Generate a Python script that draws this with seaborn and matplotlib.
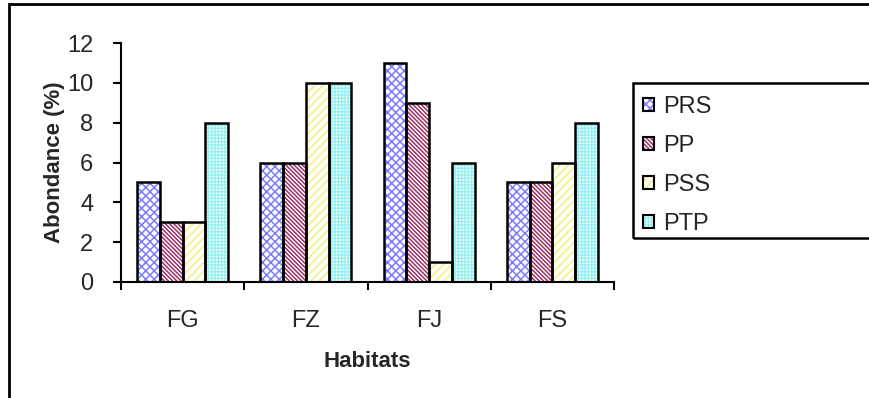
import matplotlib
matplotlib.use("Agg")
import matplotlib.pyplot as plt
from matplotlib.patches import Rectangle, Patch
from matplotlib.legend_handler import HandlerTuple
import seaborn as sns
import pandas as pd

# Abundance (%) of each species group per habitat
habitats = ["FG", "FZ", "FJ", "FS"]
species = ["PRS", "PP", "PSS", "PTP"]
prs = [5, 6, 11, 5]
pp = [3, 6, 9, 5]
pss = [3, 10, 1, 6]
ptp = [8, 10, 6, 8]

# Hatch pattern and hatch colour per species
hatch_colors = ["#7B7BFF", "#993366", "#F2F27A", "#99F0F0"]
hatches = ["xxxx", "\\\\\\\\\\\\\\\\", "////", "+++++"]

df = pd.DataFrame({
    "Habitat": habitats * 4,
    "Species": [s for s in species for _ in habitats],
    "Abondance": prs + pp + pss + ptp,
})

sns.set_theme(style="white")
plt.rcParams["font.family"] = ["Liberation Sans", "DejaVu Sans"]
plt.rcParams["hatch.linewidth"] = 1.1

W, H = 869, 398
fig = plt.figure(figsize=(W / 100, H / 100), dpi=100)
fig.patch.set_facecolor("white")

ax = fig.add_axes([121 / W, 1 - 282 / H, (614 - 121) / W, (282 - 43) / H])

sns.barplot(data=df, x="Habitat", y="Abondance", hue="Species",
            order=habitats, hue_order=species, width=0.74,
            palette=["white"] * 4, saturation=1, legend=False, ax=ax)

for cont, hc, hp in zip(ax.containers, hatch_colors, hatches):
    for bar in cont:
        bar.set_facecolor("white")
        bar.set_edgecolor(hc)
        bar.set_linewidth(0)
        bar.set_hatch(hp)
        ax.add_patch(Rectangle(bar.get_xy(), bar.get_width(), bar.get_height(),
                               fill=False, edgecolor="black", linewidth=1.8,
                               zorder=bar.get_zorder() + 0.1))

ax.set_xlim(-0.5, len(habitats) - 0.5)
ax.set_ylim(0, 12)
ax.set_yticks(range(0, 13, 2))

# category boundaries carry the x ticks, labels sit at the centres
ax.set_xticks([i - 0.5 for i in range(len(habitats) + 1)], minor=True)
ax.tick_params(axis="x", which="minor", direction="out", length=6, width=1.5,
               color="black", bottom=True)
ax.tick_params(axis="x", which="major", length=0, pad=20, labelsize=17)
ax.tick_params(axis="y", direction="out", length=6, width=1.5, color="black",
               left=True, pad=14, labelsize=17)

for side in ["top", "right"]:
    ax.spines[side].set_visible(False)
for side in ["left", "bottom"]:
    ax.spines[side].set_color("black")
    ax.spines[side].set_linewidth(1.5)

ax.set_xlabel("Habitats", fontsize=16, fontweight="bold")
ax.set_ylabel("Abondance (%)", fontsize=16, fontweight="bold")
ax.xaxis.set_label_coords(0.5, -(351 - 282) / 239, transform=ax.transAxes)
ax.xaxis.label.set_verticalalignment("top")
ax.yaxis.set_label_coords(-(121 - 65) / 493, 0.5)

# legend box
fig.add_artist(Rectangle((633 / W, 1 - 238 / H), (W + 10 - 633) / W, (238 - 83) / H,
                         transform=fig.transFigure, fill=False,
                         edgecolor="black", linewidth=1.8))
handles = [(Patch(facecolor="white", edgecolor=hc, hatch=hp, linewidth=0),
            Patch(fill=False, edgecolor="black", linewidth=1.5))
           for hc, hp in zip(hatch_colors, hatches)]
leg = fig.legend(handles, species, loc="upper left",
                 bbox_to_anchor=(624 / W, 1 - 77 / H), frameon=False,
                 fontsize=17, handlelength=0.45, handleheight=0.45,
                 handletextpad=0.4, labelspacing=0.72, borderpad=0.3,
                 handler_map={tuple: HandlerTuple(ndivide=1, pad=0)})

# outer chart border
fig.add_artist(Rectangle((9 / W, -0.05), 1.1, 1.05 - 4 / H,
                         transform=fig.transFigure, fill=False,
                         edgecolor="black", linewidth=2))

fig.savefig("out.png", dpi=100, facecolor="white")
